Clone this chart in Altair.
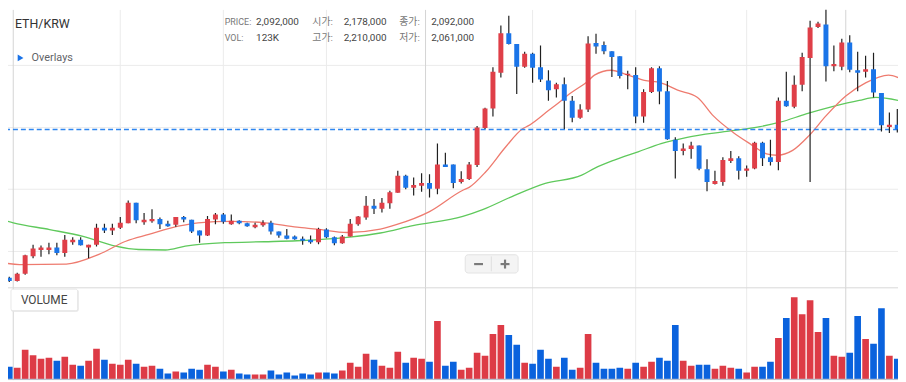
import altair as alt
import pandas as pd

# ---------------- data (prices in thousand KRW) ----------------
OPEN_K = [1652, 1657, 1650, 1665, 1701, 1714, 1714, 1719, 1708, 1730,
          1735, 1719, 1725, 1760, 1754, 1760, 1769, 1811, 1771, 1773,
          1778, 1768, 1766, 1782, 1776, 1754, 1744, 1777, 1787, 1767,
          1774, 1769, 1761, 1765, 1770, 1752, 1744, 1742, 1737, 1735,
          1730, 1756, 1740, 1728, 1742, 1767, 1781, 1805, 1799, 1810,
          1832, 1867, 1842, 1846, 1852, 1840, 1890, 1890, 1854, 1860,
          1889, 1965, 2005, 2079, 2160, 2138, 2091, 2118, 2090, 2063,
          2045, 2055, 2021, 1986, 2003, 2140, 2136, 2123, 2113, 2074,
          2074, 1989, 2039, 2088, 2041, 1941, 1918, 1922, 1929, 1880,
          1850, 1854, 1897, 1903, 1877, 1882, 1935, 1905, 1895, 2021,
          2009, 2054, 2109, 2173, 2178, 2092, 2091, 2141, 2084, 2081,
          2086, 2037, 1967, 1972]
HIGH_K = [1662, 1659, 1667, 1704, 1725, 1723, 1729, 1729, 1745, 1740,
          1740, 1725, 1768, 1768, 1768, 1782, 1816, 1811, 1790, 1798,
          1781, 1774, 1782, 1784, 1776, 1754, 1784, 1790, 1790, 1787,
          1775, 1770, 1770, 1775, 1774, 1752, 1757, 1744, 1742, 1744,
          1760, 1759, 1742, 1745, 1778, 1784, 1825, 1819, 1821, 1836,
          1877, 1869, 1863, 1872, 1870, 1933, 1914, 1890, 1876, 1895,
          1969, 2007, 2090, 2176, 2196, 2138, 2122, 2120, 2135, 2084,
          2058, 2069, 2031, 2014, 2154, 2159, 2143, 2123, 2113, 2083,
          2090, 2045, 2090, 2092, 2062, 1946, 1933, 1937, 1929, 1901,
          1877, 1905, 1918, 1907, 1888, 1937, 1937, 1941, 2028, 2081,
          2073, 2120, 2186, 2184, 2210, 2135, 2149, 2156, 2122, 2114,
          2120, 2037, 1997, 2004]
LOW_K = [1650, 1648, 1649, 1663, 1697, 1700, 1705, 1703, 1700, 1725,
         1723, 1697, 1721, 1749, 1745, 1757, 1769, 1769, 1766, 1770,
         1757, 1762, 1762, 1771, 1749, 1729, 1743, 1767, 1768, 1766,
         1767, 1762, 1759, 1762, 1746, 1739, 1736, 1735, 1725, 1727,
         1726, 1738, 1724, 1727, 1742, 1764, 1776, 1788, 1791, 1799,
         1832, 1839, 1826, 1834, 1822, 1829, 1885, 1841, 1851, 1858,
         1885, 1963, 1989, 2069, 2137, 2035, 2089, 2058, 2060, 2021,
         2028, 1963, 1977, 1984, 1998, 2118, 2117, 2070, 2067, 2045,
         1975, 1976, 2037, 2014, 1941, 1861, 1909, 1902, 1878, 1835,
         1849, 1846, 1893, 1859, 1865, 1880, 1887, 1888, 1878, 2009,
         2006, 2041, 1854, 2171, 2061, 2082, 2084, 2080, 2041, 2069,
         2028, 1958, 1955, 1956]
CLOSE_K = [1659, 1650, 1665, 1703, 1717, 1719, 1719, 1708, 1735, 1735,
           1724, 1725, 1760, 1754, 1760, 1770, 1811, 1775, 1776, 1778,
           1767, 1763, 1782, 1777, 1752, 1744, 1778, 1787, 1772, 1774,
           1769, 1763, 1766, 1770, 1752, 1744, 1737, 1736, 1733, 1730,
           1757, 1740, 1728, 1742, 1768, 1783, 1805, 1799, 1811, 1833,
           1867, 1842, 1848, 1852, 1840, 1890, 1885, 1852, 1860, 1890,
           1966, 2005, 2081, 2160, 2138, 2091, 2118, 2089, 2065, 2043,
           2055, 2021, 1986, 2003, 2139, 2133, 2123, 2111, 2072, 2077,
           1989, 2039, 2088, 2040, 1942, 1918, 1923, 1929, 1881, 1854,
           1856, 1899, 1903, 1877, 1882, 1935, 1903, 1895, 2021, 2010,
           2054, 2111, 2172, 2180, 2092, 2097, 2141, 2085, 2079, 2086,
           2038, 1971, 1972, 1962]
VOLUME_K = [31, 25, 23, 59, 48, 41, 43, 37, 45, 29,
            27, 37, 61, 39, 31, 29, 39, 31, 25, 27,
            21, 11, 15, 13, 21, 19, 29, 25, 15, 19,
            11, 9, 9, 9, 17, 9, 13, 7, 11, 9,
            13, 13, 11, 17, 33, 25, 51, 39, 27, 23,
            55, 33, 43, 41, 35, 117, 27, 35, 19, 23,
            53, 47, 91, 109, 89, 69, 33, 31, 59, 41,
            25, 43, 19, 23, 91, 33, 21, 21, 23, 21,
            33, 25, 35, 43, 37, 109, 37, 27, 29, 29,
            21, 27, 23, 21, 13, 25, 25, 35, 83, 123,
            165, 131, 159, 95, 123, 47, 45, 53, 127, 81,
            71, 143, 47, 41]

MA_SHORT_IDX = [-0.2, 2.3, 8.2, 12.3, 15.7, 18.6, 22.3, 24.8, 29.0, 33.2, 37.3, 39.8,
                43.6, 47.8, 49.8, 54.0, 58.2, 59.0, 61.1, 63.6, 65.7, 66.5, 69.0, 69.8,
                71.9, 74.0, 74.8, 76.9, 79.0, 81.1, 83.2, 85.3, 87.8, 89.8, 92.3, 94.4,
                96.5, 97.8, 99.8, 101.9, 104.0, 106.5, 109.0, 111.9, 113.1]
MA_SHORT_K = [1689, 1684, 1685, 1705, 1732, 1746, 1763, 1770, 1773, 1770, 1761, 1757,
              1750, 1757, 1766, 1793, 1837, 1843, 1875, 1926, 1963, 1970, 2001, 2011,
              2038, 2062, 2074, 2084, 2074, 2063, 2058, 2043, 2028, 1990, 1956, 1933,
              1912, 1909, 1919, 1950, 1990, 2031, 2058, 2074, 2069]
MA_LONG_IDX = [-0.2, 1.5, 6.1, 10.3, 14.4, 17.3, 20.7, 23.2, 28.2, 33.2, 37.3, 43.6,
               47.8, 51.9, 58.2, 60.7, 64.4, 68.6, 73.2, 74.8, 77.3, 80.3, 83.2, 86.5,
               91.5, 95.7, 98.2, 101.5, 104.8, 108.2, 110.3, 113.1]
MA_LONG_K = [1778, 1770, 1756, 1742, 1722, 1715, 1714, 1722, 1729, 1731, 1733, 1740,
             1749, 1764, 1783, 1797, 1824, 1851, 1868, 1882, 1899, 1916, 1933, 1946,
             1958, 1968, 1977, 1994, 2009, 2022, 2028, 2022]

GRID_PRICE_K = [2094, 1966, 1839, 1711]
GRID_IDX_MINOR = [15, 28, 41, 67, 80, 94]
GRID_IDX_MAJOR = [1.5, 53.5, 106.5]

SYMBOL = "ETH/KRW"
INFO_IDX = 104

# ---------------- styling ----------------
FONT = "Roboto, 'Noto Sans CJK KR', sans-serif"
RED, BLUE = "#df3f48", "#1a74e8"
VRED, VBLUE = "#dd3b46", "#0a62dd"
W, PH, VH = 898, 280, 94

n = len(OPEN_K)
df = pd.DataFrame({
    "idx": list(range(n)),
    "open": [v * 1000 for v in OPEN_K],
    "high": [v * 1000 for v in HIGH_K],
    "low": [v * 1000 for v in LOW_K],
    "close": [v * 1000 for v in CLOSE_K],
    "vol": [v * 1000 for v in VOLUME_K],
})
df["zero"] = 0
df["dir"] = ["up" if c > o else "down" for o, c in zip(df["open"], df["close"])]

xs = alt.Scale(domain=[0.8375, 113.0875], nice=False, zero=False)
ys = alt.Scale(domain=[1637480, 2208680], nice=False, zero=False)
vs = alt.Scale(domain=[-2600, 185400], nice=False, zero=False)


def X():
    return alt.X("idx:Q", scale=xs, axis=None)


def label(text, x, y, size, color, weight="normal", align="left"):
    return alt.Chart(pd.DataFrame({"t": [text]})).mark_text(
        align=align, baseline="middle", fontSize=size, color=color,
        font=FONT, fontWeight=weight
    ).encode(x=alt.value(x), y=alt.value(y), text="t:N")


def vgrid():
    minor = alt.Chart(pd.DataFrame({"idx": GRID_IDX_MINOR})).mark_rule(
        color="#ebebeb", strokeWidth=1, clip=True).encode(x=X())
    major = alt.Chart(pd.DataFrame({"idx": GRID_IDX_MAJOR})).mark_rule(
        color="#d3d3d3", strokeWidth=1, clip=True).encode(x=X())
    return [minor, major]


# ---------------- price pane ----------------
hgrid = alt.Chart(pd.DataFrame({"p": [g * 1000 for g in GRID_PRICE_K]})).mark_rule(
    color="#ebebeb", strokeWidth=1, clip=True).encode(y=alt.Y("p:Q", scale=ys, axis=None))

ma_long = alt.Chart(pd.DataFrame({"idx": MA_LONG_IDX, "v": [v * 1000 for v in MA_LONG_K]})).mark_line(
    color="#5fc95c", strokeWidth=1.3, interpolate="monotone", clip=True).encode(
    x=X(), y=alt.Y("v:Q", scale=ys, axis=None))
ma_short = alt.Chart(pd.DataFrame({"idx": MA_SHORT_IDX, "v": [v * 1000 for v in MA_SHORT_K]})).mark_line(
    color="#ee7b6f", strokeWidth=1.3, interpolate="monotone", clip=True).encode(
    x=X(), y=alt.Y("v:Q", scale=ys, axis=None))

last_price = alt.Chart(pd.DataFrame({"p": [df["close"].iloc[-1]]})).mark_rule(
    stroke="#2f86f0", strokeDash=[5, 3], strokeWidth=1.4, opacity=1, clip=True).encode(
    y=alt.Y("p:Q", scale=ys, axis=None), color=alt.value("#2f86f0"))

wicks = alt.Chart(df).mark_rule(color="#1f1f1f", strokeWidth=1.2, clip=True).encode(
    x=X(), y=alt.Y("low:Q", scale=ys, axis=None), y2="high:Q")
bodies = alt.Chart(df).mark_rule(strokeWidth=5, clip=True).encode(
    x=X(), y=alt.Y("open:Q", scale=ys, axis=None), y2="close:Q",
    color=alt.Color("dir:N", scale=alt.Scale(domain=["up", "down"], range=[RED, BLUE]), legend=None))

row = df.iloc[INFO_IDX]
fmt = lambda v: f"{int(v):,}"
texts = [
    label(SYMBOL, 7, 14.5, 12.5, "#333333"),
    label("Overlays", 23.7, 49, 11, "#5f6368"),
    label("PRICE:", 218.7, 12, 9, "#777777"),
    label(fmt(row["close"]), 250.3, 12, 10, "#444444"),
    label("시가:", 307, 12, 10, "#777777"),
    label(fmt(row["open"]), 338.7, 12, 10, "#444444"),
    label("종가:", 394.7, 12, 10, "#777777"),
    label(fmt(row["close"]), 427, 12, 10, "#444444"),
    label("VOL:", 218.7, 28.7, 9, "#777777"),
    label(f"{round(row['vol'] / 1000)}K", 250.3, 28.7, 10, "#444444"),
    label("고가:", 307, 28.7, 10, "#777777"),
    label(fmt(row["high"]), 338.7, 28.7, 10, "#444444"),
    label("저가:", 394.7, 28.7, 10, "#777777"),
    label(fmt(row["low"]), 427, 28.7, 10, "#444444"),
]
one = pd.DataFrame({"a": [0]})
triangle = alt.Chart(one).mark_point(shape="triangle-right", filled=True, size=45,
                                     color="#1a73e8", opacity=1).encode(
    x=alt.value(12.7), y=alt.value(48.7))

zoom_box = alt.Chart(one).mark_rect(fill="#f4f4f4", stroke="#e3e3e3", strokeWidth=1,
                                    cornerRadius=3).encode(
    x=alt.value(461.3), x2=alt.value(514.7), y=alt.value(247.3), y2=alt.value(265.7))
zoom_div = alt.Chart(one).mark_rule(color="#e0e0e0", strokeWidth=1).encode(
    x=alt.value(487.7), y=alt.value(249), y2=alt.value(264))
minus = alt.Chart(one).mark_rule(color="#7a7a7a", strokeWidth=2.2).encode(
    x=alt.value(470.3), x2=alt.value(479.3), y=alt.value(256.7))
plus_h = alt.Chart(one).mark_rule(color="#7a7a7a", strokeWidth=2.2).encode(
    x=alt.value(497), x2=alt.value(506), y=alt.value(256.7))
plus_v = alt.Chart(one).mark_rule(color="#7a7a7a", strokeWidth=2.2).encode(
    x=alt.value(501.5), y=alt.value(252.2), y2=alt.value(261.2))

price = alt.layer(
    hgrid, *vgrid(), ma_long, ma_short, last_price, wicks, bodies,
    *texts, triangle, zoom_box, zoom_div, minus, plus_h, plus_v
).properties(width=W, height=PH)

# ---------------- volume pane ----------------
bars = alt.Chart(df).mark_rule(strokeWidth=6.7, clip=True).encode(
    x=X(), y=alt.Y("zero:Q", scale=vs, axis=None), y2="vol:Q",
    color=alt.Color("dir:N", scale=alt.Scale(domain=["up", "down"], range=[VRED, VBLUE]), legend=None))
sep = alt.Chart(one).mark_rule(color="#cfcfcf", strokeWidth=1.2, clip=True).encode(
    x=alt.value(0), x2=alt.value(W), y=alt.value(0.6))
base = alt.Chart(one).mark_rule(color="#b8c0cd", strokeWidth=1.4, clip=True).encode(
    x=alt.value(0), x2=alt.value(W), y=alt.value(93.2))
vbox_shadow = alt.Chart(one).mark_rect(fill="#e6e6e6", cornerRadius=2).encode(
    x=alt.value(3), x2=alt.value(71.3), y=alt.value(2.5), y2=alt.value(24.7))
vbox = alt.Chart(one).mark_rect(fill="white", stroke="#e2e2e2", strokeWidth=0.8, cornerRadius=2).encode(
    x=alt.value(3), x2=alt.value(70.3), y=alt.value(2), y2=alt.value(23.7))
vlabel = label("VOLUME", 13, 12.7, 12, "#444444")

volume = alt.layer(*vgrid(), bars, sep, base, vbox_shadow, vbox, vlabel).properties(width=W, height=VH)

chart = alt.vconcat(price, volume, spacing=0).resolve_scale(
    y="independent", color="independent"
).configure_view(stroke=None).properties(padding=0, background="white")

chart.save("out.html", embed_options={"renderer": "svg", "actions": False})
